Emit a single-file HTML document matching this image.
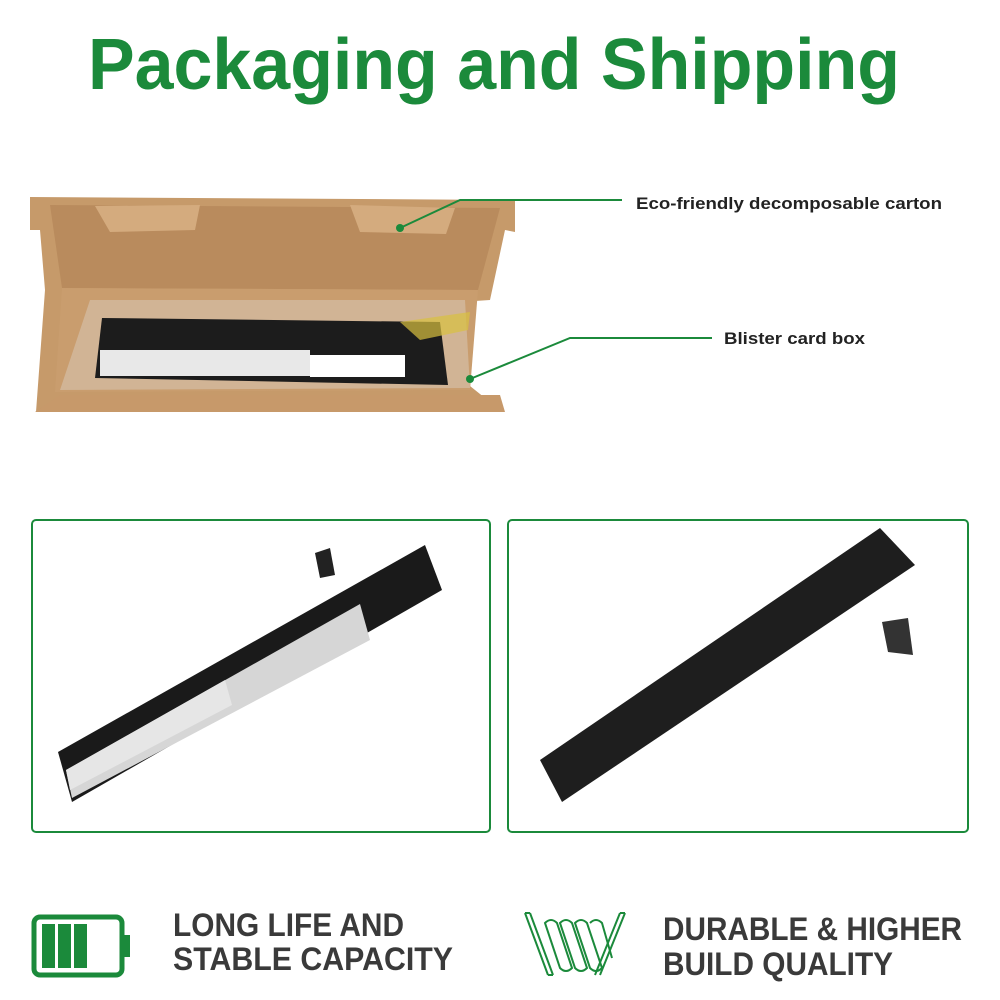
<!DOCTYPE html>
<html><head><style>
body{margin:0;width:1000px;height:1000px;background:#fff;overflow:hidden;font-family:"Liberation Sans",Arial,sans-serif}
</style></head><body>
<svg width="1000" height="1000" xmlns="http://www.w3.org/2000/svg" style="position:absolute;left:0;top:0">
<text x="88" y="89" textLength="812" lengthAdjust="spacingAndGlyphs" font-family="Liberation Sans" font-weight="bold" font-size="72" fill="#1b8a3b">Packaging and Shipping</text>
<!-- box -->
<polygon points="30,197 515,200 515,232 505,230 490,300 460,302 460,378 500,410 36,412 45,290 40,230 30,230" fill="#c69a6a"/>
<polygon points="50,205 500,208 478,290 62,288" fill="#b98b5d"/>
<polygon points="95,206 200,205 195,230 110,232" fill="#d4ab7e"/>
<polygon points="350,205 455,208 446,234 360,232" fill="#d4ab7e"/>
<polygon points="62,288 478,290 470,390 55,392" fill="#c99d6e"/>
<polygon points="60,395 500,395 505,412 35,412" fill="#c7996a"/>
<polygon points="90,300 465,300 470,388 60,390" fill="#d9cbbb" opacity="0.5"/>
<polygon points="102,318 440,322 448,385 95,378" fill="#1c1c1c"/>
<rect x="100" y="350" width="210" height="26" fill="#e8e8e8"/>
<rect x="310" y="355" width="95" height="22" fill="#fff"/>
<polygon points="400,322 470,312 468,330 420,340" fill="#d8c040" opacity="0.7"/>
<!-- callouts -->
<polyline points="400,228 460,200 622,200" fill="none" stroke="#1b8a3b" stroke-width="2"/>
<circle cx="400" cy="228" r="4" fill="#1b8a3b"/>
<polyline points="470,379 570,338 712,338" fill="none" stroke="#1b8a3b" stroke-width="2"/>
<circle cx="470" cy="379" r="4" fill="#1b8a3b"/>
<text x="636" y="209" textLength="306" lengthAdjust="spacingAndGlyphs" font-family="Liberation Sans" font-weight="bold" font-size="17" fill="#222">Eco-friendly decomposable carton</text>
<text x="724" y="344" textLength="141" lengthAdjust="spacingAndGlyphs" font-family="Liberation Sans" font-weight="bold" font-size="17" fill="#222">Blister card box</text>
<!-- panels -->
<rect x="32" y="520" width="458" height="312" rx="4" fill="#fff" stroke="#1b8a3b" stroke-width="2"/>
<rect x="508" y="520" width="460" height="312" rx="4" fill="#fff" stroke="#1b8a3b" stroke-width="2"/>
<polygon points="58,752 425,545 442,590 72,802" fill="#1a1a1a"/>
<polygon points="66,770 360,604 370,640 72,798" fill="#d6d6d6"/>
<polygon points="66,770 225,680 232,705 70,790" fill="#e6e6e6"/>
<polygon points="315,553 330,548 335,575 320,578" fill="#222"/>
<polygon points="540,760 880,528 915,565 562,802" fill="#1e1e1e"/>
<polygon points="882,622 908,618 913,655 888,652" fill="#333"/>
<!-- battery icon -->
<rect x="34" y="917" width="88" height="58" rx="6" fill="none" stroke="#1b8a3b" stroke-width="5"/>
<rect x="124" y="935" width="6" height="22" fill="#1b8a3b"/>
<rect x="42" y="924" width="13" height="44" fill="#1b8a3b"/>
<rect x="58" y="924" width="13" height="44" fill="#1b8a3b"/>
<rect x="74" y="924" width="13" height="44" fill="#1b8a3b"/>
<text x="173" y="936" textLength="231" lengthAdjust="spacingAndGlyphs" font-family="Liberation Sans" font-weight="bold" font-size="32" fill="#3a3a3a">LONG LIFE AND</text>
<text x="173" y="970" textLength="280" lengthAdjust="spacingAndGlyphs" font-family="Liberation Sans" font-weight="bold" font-size="32" fill="#3a3a3a">STABLE CAPACITY</text>
<!-- twisted icon -->
<g fill="none" stroke="#1b8a3b" stroke-width="2">
<path d="M525,913 L548,975 M530,913 L553,975 M525,913 L530,913 M548,975 L553,975"/>
<path d="M620,913 L595,975 M625,913 L600,975 M620,913 L625,913"/>
<path d="M545,923 q6,-6 12,0 l15,45 q-6,6 -12,0 z"/>
<path d="M560,923 q6,-6 12,0 l15,45 q-6,6 -12,0 z"/>
<path d="M575,923 q6,-6 12,0 l15,45 q-6,6 -12,0 z"/>
<path d="M590,923 q6,-6 12,0 l10,35"/>
</g>
<text x="663" y="940" textLength="299" lengthAdjust="spacingAndGlyphs" font-family="Liberation Sans" font-weight="bold" font-size="32" fill="#3a3a3a">DURABLE &amp; HIGHER</text>
<text x="663" y="975" textLength="230" lengthAdjust="spacingAndGlyphs" font-family="Liberation Sans" font-weight="bold" font-size="32" fill="#3a3a3a">BUILD QUALITY</text>
</svg>
</body></html>
